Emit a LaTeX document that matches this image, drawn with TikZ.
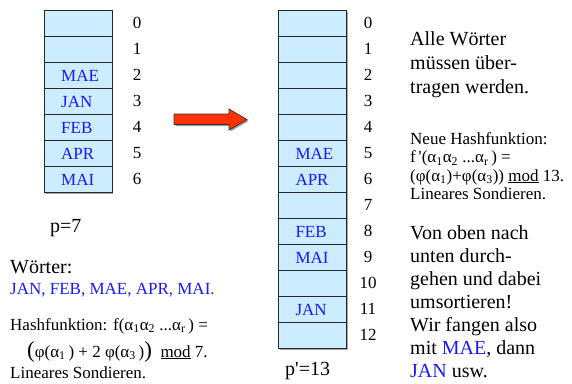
\documentclass[tikz,border=0pt]{standalone}
\usepackage{fontspec}
\setmainfont{Liberation Serif}
\definecolor{cellblue}{RGB}{204,236,255}
\definecolor{wordblue}{RGB}{25,25,255}
\definecolor{arrowred}{RGB}{255,51,0}
\tikzset{
  cell/.style={draw=black!85, fill=cellblue, line width=0.9pt, minimum width=68pt, minimum height=26pt, inner sep=0pt, anchor=north west},
  idx/.style={font=\fontsize{17}{18}\selectfont, inner sep=0pt, anchor=center},
  lbl/.style={font=\fontsize{17}{18}\selectfont, text=wordblue, inner sep=0pt, anchor=west, xshift=17pt},
  big/.style={font=\fontsize{20}{22}\selectfont, inner sep=0pt, anchor=base west},
  small/.style={font=\fontsize{17}{18}\selectfont, inner sep=0pt, anchor=base west},
}
\begin{document}
\begin{tikzpicture}[x=1pt,y=-1pt]
\useasboundingbox (0,0) rectangle (572,383);
% shadows of the tables
\fill[black!35] (45.3,11.6) rectangle (113.3,193.6);
\fill[black!35] (279.6,11.6) rectangle (347.6,349.6);
% left table p=7
\foreach \i in {0,...,6}{
  \node[cell] (L\i) at (44,{10.3+26*\i}) {};
  \node[idx] (Li\i) at (137,{23.3+26*\i}) {\i};
}
\node[lbl] (LMAE) at (L2.west) {MAE};
\node[lbl] (LJAN) at (L3.west) {JAN};
\node[lbl] (LFEB) at (L4.west) {FEB};
\node[lbl] (LAPR) at (L5.west) {APR};
\node[lbl] (LMAI) at (L6.west) {MAI};
% right table p'=13
\foreach \i in {0,...,12}{
  \node[cell] (R\i) at (278.3,{10.3+26*\i}) {};
  \node[idx] (Ri\i) at (368,{23.3+26*\i}) {\i};
}
\node[lbl] (RMAE) at (R5.west) {MAE};
\node[lbl] (RAPR) at (R6.west) {APR};
\node[lbl] (RFEB) at (R8.west) {FEB};
\node[lbl] (RMAI) at (R9.west) {MAI};
\node[lbl] (RJAN) at (R11.west) {JAN};
% block arrow
\fill[black!40] (175.5,115.5) -- (230.5,115.5) -- (230.5,110.5) -- (248.5,121) -- (230.5,131.5) -- (230.5,126) -- (175.5,126) -- cycle;
\draw[fill=arrowred, draw=black!80, line width=0.7pt] (174,114) -- (229,114) -- (229,109) -- (247,119.5) -- (229,130) -- (229,124.5) -- (174,124.5) -- cycle;
% captions
\node[big] (p7) at (50,232) {p=7};
\node[big] (p13) at (285,375) {p\textquotesingle=13};
% left bottom text
\node[big] (woerter) at (10,273) {Wörter:};
\node[small, text=wordblue] (liste) at (10,294) {JAN, FEB, MAE, APR, MAI.};
\node[small] (hash1) at (10,330) {Hashfunktion: f(α\textsubscript{1}α\textsubscript{2} ...α\textsubscript{r}\,) =};
\node[small] (hash2) at (27,357) {{\fontsize{23}{23}\selectfont(}φ(α\textsubscript{1}\,) + 2 φ(α\textsubscript{3}\,){\fontsize{23}{23}\selectfont)}\enspace\underline{mod} 7.};
\node[small] (lin1) at (10,378) {Lineares Sondieren.};
% right text
\node[big] (r1) at (410,45) {Alle Wörter};
\node[big] (r2) at (410,69) {müssen über-};
\node[big] (r3) at (410,93) {tragen werden.};
\node[small] (n1) at (410,144) {Neue Hashfunktion:};
\node[small] (n2) at (410,162.5) {f\,\textquotesingle(α\textsubscript{1}α\textsubscript{2} ...α\textsubscript{r}\,) =};
\node[small] (n3) at (410,181) {(φ(α\textsubscript{1})+φ(α\textsubscript{3})) \underline{mod} 13.};
\node[small] (n4) at (410,199.5) {Lineares Sondieren.};
\node[big] (v1) at (410,239) {Von oben nach};
\node[big] (v2) at (410,262) {unten durch-};
\node[big] (v3) at (410,285) {gehen und dabei};
\node[big] (v4) at (410,308) {umsortieren!};
\node[big] (v5) at (410,331) {Wir fangen also};
\node[big] (v6) at (410,354) {mit \textcolor{wordblue}{MAE}, dann};
\node[big] (v7) at (410,377) {\textcolor{wordblue}{JAN} usw.};
\end{tikzpicture}
\end{document}
